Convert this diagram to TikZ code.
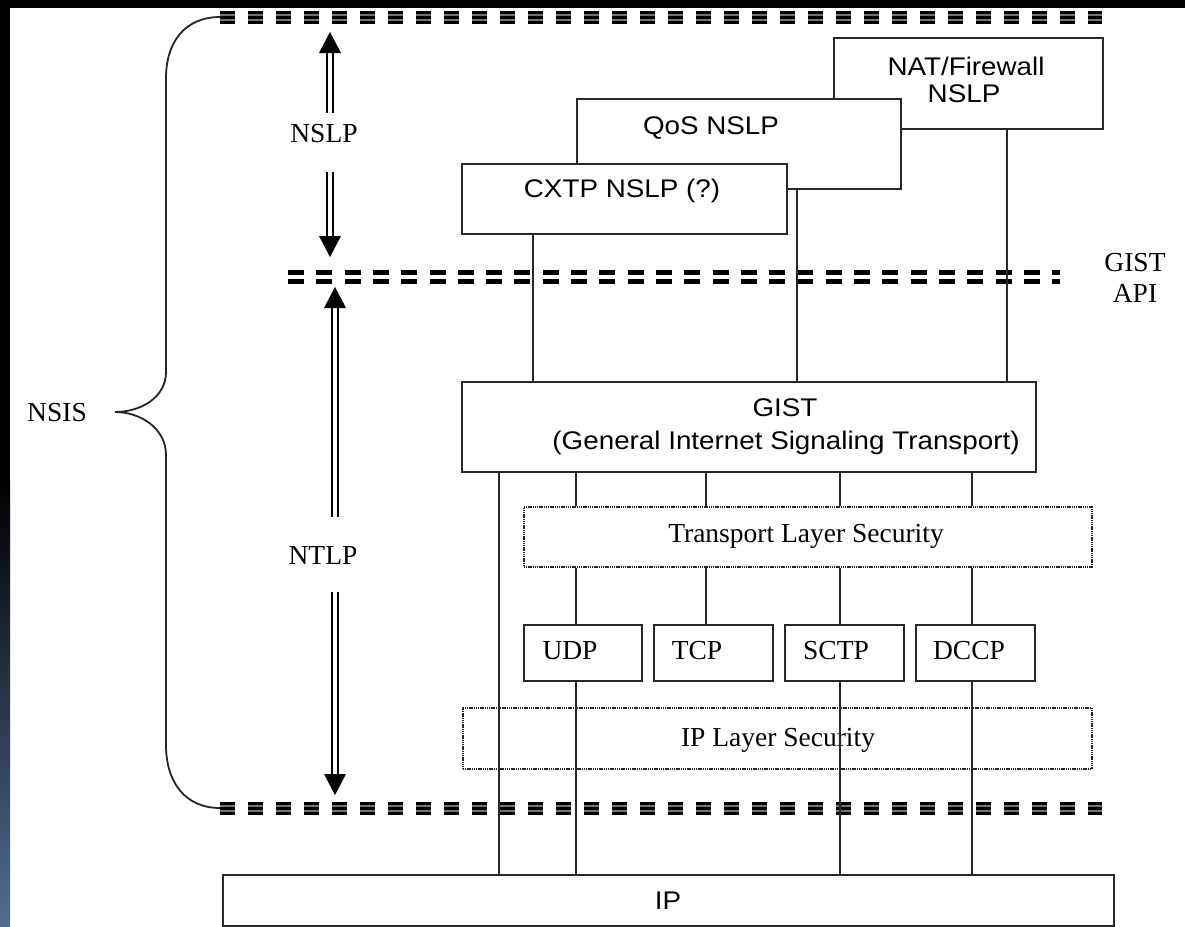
\documentclass[tikz,border=0pt]{standalone}
\usepackage{fontspec}
\setmainfont{Liberation Serif}
\newfontfamily\arialf{Liberation Sans}
\newcommand{\sanstxt}[1]{\scalebox{1.09}[1]{#1}}
\definecolor{stripblue}{RGB}{80,108,146}
\definecolor{linec}{RGB}{40,40,40}
\begin{document}
\begin{tikzpicture}[x=1pt,y=-1pt,
  box/.style={draw=linec, line width=1.6pt, fill=white, inner sep=0pt, anchor=north west},
  dotbox/.style={draw=linec, line width=1.6pt, dash pattern=on 1.4pt off 0.8pt, inner sep=0pt, anchor=north west},
  conn/.style={draw=linec, line width=1.6pt},
  sanslabel/.style={font=\arialf\fontsize{25.5}{30}\selectfont, anchor=base, inner sep=0pt},
  seriflabel/.style={font=\fontsize{27.5}{31}\selectfont, anchor=base, inner sep=0pt},
  shaft/.style={draw=black, double=white, double distance=4pt, line width=1.8pt},
  brace/.style={draw=black!85, line width=1.8pt},
  sepgray/.style={draw=black!55, line width=13pt, dash pattern=on 15pt off 13pt},
  sepline/.style={draw=black, line width=3pt, dash pattern=on 15pt off 13pt},
  apiline/.style={draw=black, line width=5pt, dash pattern=on 16pt off 12.3pt}
]
\useasboundingbox (0,0) rectangle (1185,926);
% background
\fill[black] (0,0) rectangle (1185,926);
\fill[white] (10,8) rectangle (1185,926);
\shade[top color=black, bottom color=stripblue] (0,480) rectangle (10,926);

% separator lines
\coordinate (topL) at (220,17);  \coordinate (topR) at (1102,17);
\coordinate (botL) at (220,808); \coordinate (botR) at (1102,808);
\draw[sepgray] (topL) -- (topR);
\draw[sepline] (220,12) -- (1102,12);
\draw[sepline] (220,17) -- (1102,17);
\draw[sepline] (220,22) -- (1102,22);
\draw[sepgray] (botL) -- (botR);
\draw[sepline] (220,803) -- (1102,803);
\draw[sepline] (220,808) -- (1102,808);
\draw[sepline] (220,813) -- (1102,813);
\draw[apiline] (288,272.5) -- (1060,272.5);
\draw[apiline] (288,281.5) -- (1060,281.5);

% brace
\draw[brace] (topL) .. controls (185,17) and (166,42) .. (166,78) -- (166,372)
  .. controls (166,398) and (140,412) .. (115,412)
  .. controls (140,412) and (166,428) .. (166,455) -- (166,745)
  .. controls (166,782) and (185,808) .. (botL);
\node[seriflabel] (nsis) at (57,421) {NSIS};

% NSLP arrow
\coordinate (a1tip) at (330,32);  \coordinate (a1base) at (330,52);
\coordinate (a1end) at (330,113);
\coordinate (a2start) at (330,172); \coordinate (a2base) at (330,237);
\coordinate (a2tip) at (330,257);
\draw[shaft] (a1base) -- (a1end);
\draw[shaft] (a2start) -- (a2base);
\fill[black] (a1tip) -- ++(-11,21) -- ++(22,0) -- cycle;
\fill[black] (a2tip) -- ++(-11,-21) -- ++(22,0) -- cycle;
\node[seriflabel] (nslp) at (324,142) {NSLP};

% NTLP arrow
\coordinate (b1tip) at (335,287);  \coordinate (b1base) at (335,307);
\coordinate (b1end) at (335,517);
\coordinate (b2start) at (335,592); \coordinate (b2base) at (335,775);
\coordinate (b2tip) at (335,795);
\draw[shaft] (b1base) -- (b1end);
\draw[shaft] (b2start) -- (b2base);
\fill[black] (b1tip) -- ++(-11,21) -- ++(22,0) -- cycle;
\fill[black] (b2tip) -- ++(-11,-21) -- ++(22,0) -- cycle;
\node[seriflabel] (ntlp) at (323,564) {NTLP};

% GIST API label
\node[seriflabel] (api1) at (1135,271) {GIST};
\node[seriflabel] (api2) at (1135,302) {API};

% NSLP boxes
\node[box, minimum width=269pt, minimum height=91pt] (nat) at (833,37) {};
\node[box, minimum width=324pt, minimum height=90pt] (qos) at (576,98) {};
\node[box, minimum width=325pt, minimum height=70pt] (cxtp) at (461,163) {};
\node[sanslabel] (nattxt1) at (966,75) {\sanstxt{NAT/Firewall}};
\node[sanslabel] (nattxt2) at (964,102) {\sanstxt{NSLP}};
\node[sanslabel] (qostxt) at (711,134) {\sanstxt{QoS NSLP}};
\node[sanslabel] (cxtptxt) at (622,197) {\sanstxt{CXTP NSLP (?)}};

% GIST
\node[box, minimum width=574pt, minimum height=90pt] (gist) at (461,381) {};
\node[sanslabel] (gisttxt) at (785,416) {\sanstxt{GIST}};
\node[sanslabel] (gistsub) at (786,449) {\sanstxt{(General Internet Signaling Transport)}};

% TLS
\node[dotbox, minimum width=568pt, minimum height=60pt] (tls) at (523,506) {};
\node[seriflabel] (tlstxt) at (806,542) {Transport Layer Security};

% transports
\node[box, minimum width=118pt, minimum height=56pt] (udp) at (523,624) {};
\node[box, minimum width=119pt, minimum height=56pt] (tcp) at (653,624) {};
\node[box, minimum width=119pt, minimum height=56pt] (sctp) at (784,624) {};
\node[box, minimum width=119pt, minimum height=56pt] (dccp) at (915,624) {};
\node[seriflabel] at (570,659) {UDP};
\node[seriflabel] at (697,659) {TCP};
\node[seriflabel] at (836,659) {SCTP};
\node[seriflabel] at (969,659) {DCCP};

% IPsec
\node[dotbox, minimum width=629pt, minimum height=61pt] (ipsec) at (462,707) {};
\node[seriflabel] (ipsectxt) at (778,746) {IP Layer Security};

% IP
\node[box, minimum width=891pt, minimum height=51pt] (ip) at (222,874) {};
\node[sanslabel] (iptxt) at (668,909) {\sanstxt{IP}};

% connectors NSLP -> GIST
\draw[conn] (533,0 |- cxtp.south) -- (533,0 |- gist.north);
\draw[conn] (797,0 |- qos.south) -- (797,0 |- gist.north);
\draw[conn] (1007,0 |- nat.south) -- (1007,0 |- gist.north);

% GIST -> TLS
\draw[conn] (499,0 |- gist.south) -- (499,0 |- ip.north);
\draw[conn] (576,0 |- gist.south) -- (576,0 |- tls.north);
\draw[conn] (706,0 |- gist.south) -- (706,0 |- tls.north);
\draw[conn] (840,0 |- gist.south) -- (840,0 |- tls.north);
\draw[conn] (972,0 |- gist.south) -- (972,0 |- tls.north);

% TLS -> transports
\draw[conn] (576,0 |- tls.south) -- (576,0 |- udp.north);
\draw[conn] (706,0 |- tls.south) -- (706,0 |- tcp.north);
\draw[conn] (840,0 |- tls.south) -- (840,0 |- sctp.north);
\draw[conn] (972,0 |- tls.south) -- (972,0 |- dccp.north);

% transports -> IP
\draw[conn] (576,0 |- udp.south) -- (576,0 |- ip.north);
\draw[conn] (840,0 |- sctp.south) -- (840,0 |- ip.north);
\draw[conn] (972,0 |- dccp.south) -- (972,0 |- ip.north);
\end{tikzpicture}
\end{document}
